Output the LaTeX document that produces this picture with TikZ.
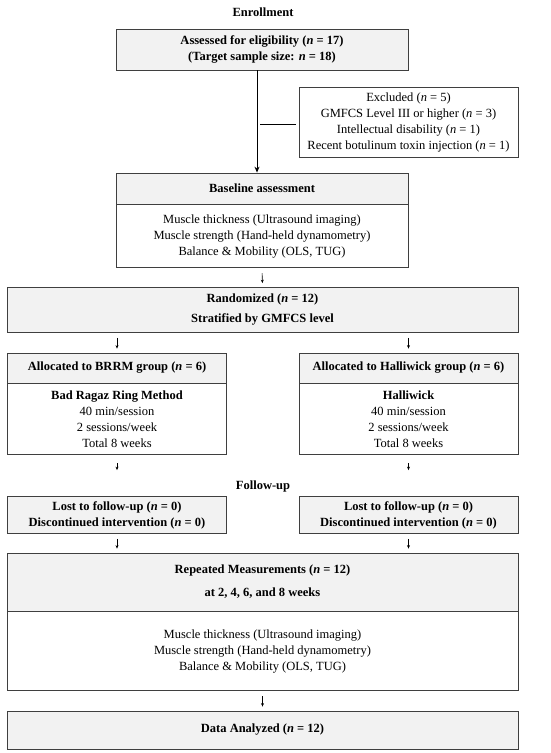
\documentclass[tikz,border=0pt]{standalone}
\usepackage{fontspec}
\setmainfont{Liberation Serif}
\usetikzlibrary{arrows.meta, positioning}

\definecolor{boxline}{HTML}{3F3F3F}
\definecolor{boxfill}{HTML}{F2F2F2}

\tikzset{
  box/.style={draw=boxline, line width=0.8pt, align=center, inner sep=0pt,
    font=\fontsize{12.5}{16}\selectfont},
  headbox/.style={box, fill=boxfill, font=\fontsize{12.5}{16}\selectfont\bfseries},
  widebox/.style={minimum width=511pt},
  midbox/.style={minimum width=292pt},
  sidebox/.style={minimum width=219pt},
  label/.style={font=\fontsize{12.5}{16}\selectfont\bfseries},
  mainarrow/.style={draw=black, line width=1pt, -{Stealth[length=6pt,width=5pt]}},
  flowarrow/.style={draw=black, line width=0.6pt, -{Stealth[length=3.5pt,width=3pt]},
    shorten <=5pt, shorten >=4pt}
}

\begin{document}
\begin{tikzpicture}[x=1pt, y=-1pt]
\useasboundingbox (0,0) rectangle (550,753);

% enrollment part
\node[label] (enroll) at (263,12) {Enrollment};
\node[headbox, midbox, minimum height=41pt] (assess) at (262,49.5)
  {Assessed for eligibility (\textit{n} = 17)\\(Target sample size: \textit{n} = 18)};
\node[box, sidebox, minimum height=70pt] (excl) at (408.5,122)
  {Excluded (\textit{n} = 5)\\GMFCS Level III or higher (\textit{n} = 3)\\
   Intellectual disability (\textit{n} = 1)\\Recent botulinum toxin injection (\textit{n} = 1)};
\node[headbox, midbox, minimum height=31pt] (basehead) at (262,188.5) {Baseline assessment};
\node[box, midbox, minimum height=63pt, below=0pt of basehead] (basebody)
  {Muscle thickness (Ultrasound imaging)\\Muscle strength (Hand-held dynamometry)\\
   Balance \& Mobility (OLS, TUG)};

% randomization and allocation
\node[headbox, widebox, minimum height=45pt] (rand) at (262.5,310)
  {Randomized (\textit{n} = 12)\\[4pt]Stratified by GMFCS level};
\node[headbox, sidebox, minimum height=30pt] (brrmhead) at (117,368)
  {Allocated to BRRM group (\textit{n} = 6)};
\node[box, sidebox, minimum height=71pt, below=0pt of brrmhead] (brrmbody)
  {\textbf{Bad Ragaz Ring Method}\\40 min/session\\2 sessions/week\\Total 8 weeks};
\node[headbox, sidebox, minimum height=30pt] (hallhead) at (408.5,368)
  {Allocated to Halliwick group (\textit{n} = 6)};
\node[box, sidebox, minimum height=71pt, below=0pt of hallhead] (hallbody)
  {\textbf{Halliwick}\\40 min/session\\2 sessions/week\\Total 8 weeks};

% follow-up part
\node[label] (follow) at (263,486) {Follow-up};
\node[headbox, sidebox, minimum height=37pt] (brrmlost) at (117,515)
  {Lost to follow-up (\textit{n} = 0)\\Discontinued intervention (\textit{n} = 0)};
\node[headbox, sidebox, minimum height=37pt] (halllost) at (408.5,515)
  {Lost to follow-up (\textit{n} = 0)\\Discontinued intervention (\textit{n} = 0)};
\node[headbox, widebox, minimum height=58pt] (rephead) at (262.5,582)
  {Repeated Measurements (\textit{n} = 12)\\[7pt]at 2, 4, 6, and 8 weeks};
\node[box, widebox, minimum height=79pt, below=0pt of rephead] (repbody)
  {Muscle thickness (Ultrasound imaging)\\Muscle strength (Hand-held dynamometry)\\
   Balance \& Mobility (OLS, TUG)};
\node[headbox, widebox, minimum height=38pt] (data) at (262.5,730)
  {Data Analyzed (\textit{n} = 12)};

% connectors
\coordinate (split) at (257,124);
\draw[mainarrow] (assess.south -| split) -- (basehead.north -| split);
\draw[line width=0.8pt, shorten <=3pt, shorten >=3pt] (split) -- (split -| excl.west);
\path[flowarrow] (basebody.south) -- (rand.north);
\path[flowarrow] (rand.south -| brrmhead.north) -- (brrmhead.north);
\path[flowarrow] (rand.south -| hallhead.north) -- (hallhead.north);
\path[flowarrow, shorten <=8pt, shorten >=26pt] (brrmbody.south) -- (brrmlost.north);
\path[flowarrow, shorten <=8pt, shorten >=26pt] (hallbody.south) -- (halllost.north);
\path[flowarrow] (brrmlost.south) -- (brrmlost.south |- rephead.north);
\path[flowarrow] (halllost.south) -- (halllost.south |- rephead.north);
\path[flowarrow] (repbody.south) -- (data.north);

\end{tikzpicture}
\end{document}
